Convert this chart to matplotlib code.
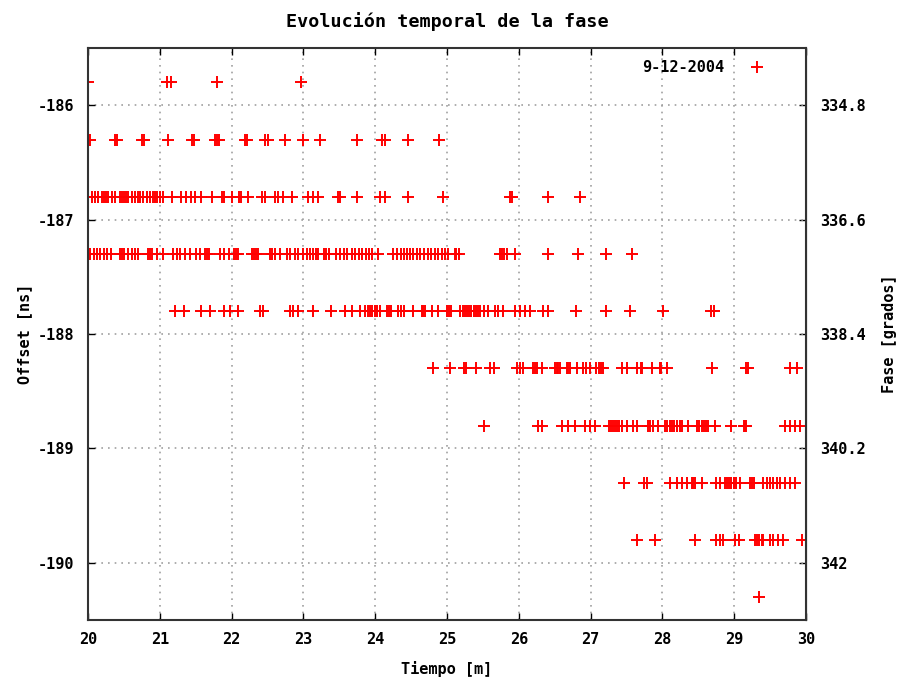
import matplotlib.pyplot as plt

# Datos: cada fila de offset con sus instantes
offsets = [-185.8, -186.3, -186.8, -187.3, -187.8, -188.3, -188.8, -189.3, -189.8, -190.3]

t_185_8 = [20.00, 21.10, 21.16, 21.80, 22.97]
t_186_3 = [20.03, 20.37, 20.40, 20.75, 20.78, 21.12, 21.45, 21.48, 21.77, 21.80, 21.82,
           22.18, 22.21, 22.47, 22.50, 22.74, 22.99, 23.23, 23.74, 24.10, 24.13, 24.46, 24.89]
t_186_8 = [20.06, 20.10, 20.14, 20.19, 20.22, 20.25, 20.28, 20.33, 20.38, 20.44, 20.47,
           20.50, 20.53, 20.56, 20.61, 20.65, 20.69, 20.72, 20.77, 20.82, 20.86, 20.91,
           20.94, 20.96, 21.00, 21.05, 21.17, 21.30, 21.37, 21.43, 21.49, 21.57, 21.73,
           21.86, 21.90, 22.00, 22.10, 22.13, 22.23, 22.42, 22.47, 22.61, 22.64, 22.71,
           22.84, 23.06, 23.13, 23.21, 23.48, 23.51, 23.74, 24.07, 24.14, 24.45, 24.95,
           25.88, 25.91, 26.40, 26.85]
t_187_3 = [20.03, 20.08, 20.12, 20.17, 20.22, 20.27, 20.32, 20.45, 20.47, 20.50, 20.56,
           20.61, 20.65, 20.70, 20.84, 20.86, 20.89, 20.96, 21.04, 21.19, 21.24, 21.28,
           21.35, 21.42, 21.51, 21.56, 21.63, 21.66, 21.69, 21.84, 21.90, 21.96, 22.03,
           22.06, 22.09, 22.28, 22.31, 22.34, 22.37, 22.53, 22.56, 22.60, 22.67, 22.77,
           22.82, 22.88, 22.93, 23.00, 23.05, 23.09, 23.13, 23.17, 23.21, 23.28, 23.31,
           23.35, 23.46, 23.51, 23.56, 23.61, 23.67, 23.72, 23.77, 23.82, 23.87, 23.91,
           23.95, 24.04, 24.25, 24.30, 24.36, 24.40, 24.44, 24.49, 24.53, 24.58, 24.63,
           24.68, 24.73, 24.78, 24.83, 24.88, 24.93, 24.97, 25.01, 25.11, 25.13, 25.16,
           25.74, 25.77, 25.80, 25.83, 25.95, 26.41, 26.83, 27.22, 27.58]
t_187_8 = [21.21, 21.33, 21.58, 21.70, 21.89, 21.98, 22.09, 22.40, 22.44, 22.81, 22.86,
           22.92, 23.14, 23.39, 23.58, 23.67, 23.79, 23.86, 23.90, 23.93, 23.96, 24.00,
           24.03, 24.06, 24.16, 24.19, 24.22, 24.32, 24.36, 24.40, 24.53, 24.65, 24.67,
           24.69, 24.79, 24.88, 25.00, 25.03, 25.06, 25.18, 25.22, 25.25, 25.28, 25.31,
           25.34, 25.37, 25.40, 25.43, 25.46, 25.51, 25.57, 25.67, 25.71, 25.78, 25.95,
           26.02, 26.09, 26.15, 26.34, 26.41, 26.80, 27.22, 27.55, 28.01, 28.68, 28.72]
t_188_3 = [24.81, 25.04, 25.23, 25.27, 25.41, 25.60, 25.65, 25.97, 26.02, 26.06, 26.20,
           26.23, 26.25, 26.32, 26.50, 26.53, 26.55, 26.57, 26.67, 26.69, 26.71, 26.81,
           26.90, 26.94, 26.99, 27.08, 27.11, 27.14, 27.17, 27.43, 27.50, 27.64, 27.70,
           27.72, 27.85, 27.96, 27.98, 28.06, 28.69, 29.17, 29.19, 29.78, 29.87]
t_188_8 = [25.51, 26.27, 26.32, 26.60, 26.69, 26.78, 26.92, 26.99, 27.06, 27.25, 27.28,
           27.31, 27.34, 27.37, 27.40, 27.43, 27.50, 27.59, 27.64, 27.80, 27.83, 27.87,
           27.94, 28.04, 28.07, 28.10, 28.13, 28.16, 28.20, 28.24, 28.27, 28.36, 28.48,
           28.51, 28.55, 28.58, 28.61, 28.64, 28.73, 28.96, 29.13, 29.15, 29.17, 29.71,
           29.78, 29.85, 29.92]
t_189_3 = [27.47, 27.75, 27.78, 28.11, 28.20, 28.27, 28.34, 28.41, 28.43, 28.45, 28.55,
           28.75, 28.80, 28.87, 28.90, 28.93, 28.96, 28.99, 29.03, 29.08, 29.22, 29.25,
           29.27, 29.40, 29.45, 29.50, 29.54, 29.59, 29.64, 29.71, 29.78, 29.85]
t_189_8 = [27.64, 27.90, 28.45, 28.75, 28.80, 28.85, 29.01, 29.06, 29.29, 29.32, 29.35,
           29.38, 29.40, 29.50, 29.54, 29.61, 29.68, 29.94]
t_190_3 = [29.35]

filas = [t_185_8, t_186_3, t_186_8, t_187_3, t_187_8,
         t_188_3, t_188_8, t_189_3, t_189_8, t_190_3]

y_ticks = [-186, -187, -188, -189, -190]
fase_ticks = [334.8, 336.6, 338.4, 340.2, 342]
fase_labels = ['334.8', '336.6', '338.4', '340.2', '342']

plt.rcParams['font.family'] = ['DejaVu Sans Mono']
plt.rcParams['font.weight'] = 'bold'
plt.rcParams['axes.titleweight'] = 'bold'
plt.rcParams['axes.labelweight'] = 'bold'
plt.rcParams['font.size'] = 11

fig = plt.figure(figsize=(8.98, 6.77), dpi=100)
ax = fig.add_axes([0.098, 0.0842, 0.7996, 0.8448])

# juntar todos los puntos en una sola serie
xs, ys = [], []
for off, tiempos in zip(offsets, filas):
    xs += tiempos
    ys += [off] * len(tiempos)
ax.plot(xs, ys, linestyle='none', marker='+', color='#ff0000',
        markersize=8.5, markeredgewidth=1.4, label='9-12-2004')

ax.set_xlim(20, 30)
ax.set_ylim(-190.5, -185.5)
ax.set_xticks(range(20, 31))
ax.set_yticks(y_ticks)
ax.set_yticklabels([str(v) for v in y_ticks])
ax.grid(True, color='#a0a0a0', linestyle=(0, (1, 3)), linewidth=1.2)
ax.tick_params(direction='in', length=5, width=1, top=True, right=False, pad=9)
ax.tick_params(axis='y', pad=10)
for s in ax.spines.values():
    s.set_linewidth(1.5)
    s.set_color('#333333')

# eje derecho: fase = -1.8 * offset
ax2 = ax.secondary_yaxis('right', functions=(lambda o: -1.8 * o, lambda f: -f / 1.8))
ax2.set_yticks(fase_ticks)
ax2.set_yticklabels(fase_labels)
ax2.tick_params(direction='in', length=5, width=1, pad=10)
ax2.set_ylabel('Fase [grados]', labelpad=12, fontsize=11)

ax.set_xlabel('Tiempo [m]', labelpad=10)
ax.set_ylabel('Offset [ns]', labelpad=4)
ax.set_title('Evolución temporal de la fase', pad=15)

leg = ax.legend(loc='upper right', bbox_to_anchor=(0.965, 1.0), frameon=False,
                markerfirst=False, handlelength=1.5, handletextpad=1.4,
                borderaxespad=0.4)

fig.savefig('out.png', dpi=100)
